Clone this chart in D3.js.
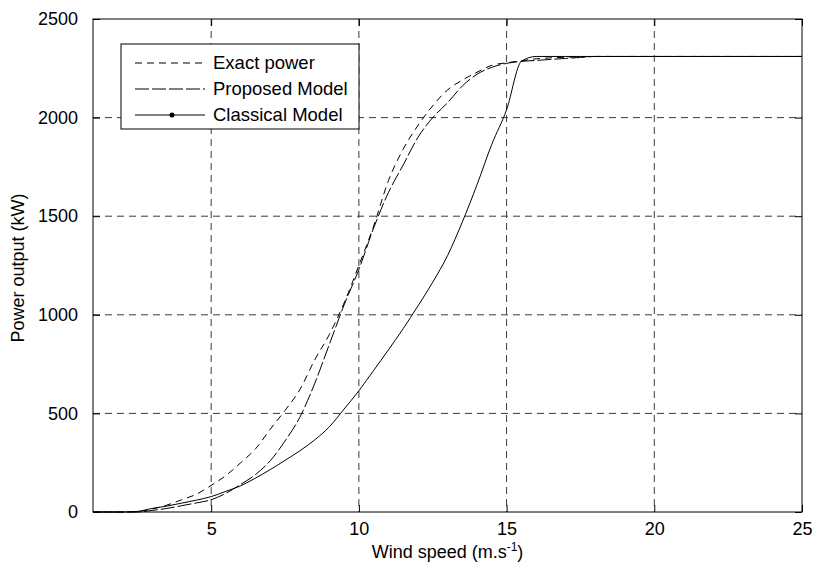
<!DOCTYPE html>
<html>
<head>
<meta charset="utf-8">
<script src="https://cdn.jsdelivr.net/npm/d3@7"></script>
<style>
  body { margin: 0; background: #fff; }
  text { font-family: "Liberation Sans", Arial, sans-serif; fill: #000; }
</style>
</head>
<body>
<svg id="chart"></svg>
<script>
// Data
const windSpeed = [1, 1.5, 2, 2.5, 3, 3.5, 4, 4.5, 5, 5.5, 6, 6.5, 7, 7.5, 8, 8.5, 9, 9.5, 10,
  10.5, 11, 11.5, 12, 12.5, 13, 13.5, 14, 14.5, 15, 15.5, 16, 16.5, 17, 17.5, 18, 20, 22, 25];

const exactPower = [0, 0, 0, 2, 15, 35, 62, 90, 135, 185, 250, 320, 420, 515, 620, 770, 900, 1060, 1250,
  1450, 1680, 1840, 1960, 2060, 2140, 2190, 2230, 2265, 2278, 2288, 2298, 2303, 2306, 2308, 2310, 2310, 2310, 2310];

const proposedModel = [0, 0, 0, 0, 8, 18, 32, 46, 62, 95, 140, 190, 260, 360, 480, 650, 850, 1050, 1230,
  1440, 1620, 1760, 1900, 2000, 2075, 2160, 2220, 2255, 2275, 2285, 2290, 2295, 2300, 2305, 2310, 2310, 2310, 2310];

const classicalModel = [0, 0, 0, 3, 18, 30, 45, 60, 78, 105, 133, 172, 215, 262, 310, 365, 432, 522, 615,
  718, 822, 930, 1045, 1165, 1300, 1470, 1660, 1865, 2040, 2285, 2310, 2310, 2310, 2310, 2310, 2310, 2310, 2310];

const xTicks = [5, 10, 15, 20, 25];
const yTicks = [0, 500, 1000, 1500, 2000, 2500];

const seriesNames = ["Exact power", "Proposed Model", "Classical Model"];
const seriesValues = [exactPower, proposedModel, classicalModel];
const seriesDash = ["7,5", "14,3", null];

// Layout
const svgWidth = 813;
const svgHeight = 562;
const margin = { top: 19, right: 11, bottom: 50, left: 93 };
const plotW = svgWidth - margin.left - margin.right;
const plotH = svgHeight - margin.top - margin.bottom;

const svg = d3.select('#chart')
  .attr('width', svgWidth)
  .attr('height', svgHeight);

const g = svg.append('g')
  .attr('transform', 'translate(' + margin.left + ',' + margin.top + ')');

const x = d3.scaleLinear().domain([1, 25]).range([0, plotW]);
const y = d3.scaleLinear().domain([0, 2500]).range([plotH, 0]);

//Grid lines
g.selectAll('.vgrid')
  .data(xTicks.filter(d => d < 25))
  .enter().append('line')
  .attr('class', 'vgrid')
  .attr('x1', d => x(d)).attr('x2', d => x(d))
  .attr('y1', 0).attr('y2', plotH)
  .style('stroke', '#3a3a3a')
  .style('stroke-dasharray', '7,5')
  .style('stroke-width', 1);

g.selectAll('.hgrid')
  .data(yTicks.filter(d => d > 0 && d < 2500))
  .enter().append('line')
  .attr('class', 'hgrid')
  .attr('x1', 0).attr('x2', plotW)
  .attr('y1', d => y(d)).attr('y2', d => y(d))
  .style('stroke', '#3a3a3a')
  .style('stroke-dasharray', '7,5')
  .style('stroke-width', 1);

//Curves
const line = d3.line()
  .x((d, i) => x(windSpeed[i]))
  .y(d => y(d))
  .curve(d3.curveMonotoneX);

seriesValues.forEach((vals, k) => {
  g.append('path')
    .datum(vals)
    .attr('d', line)
    .style('fill', 'none')
    .style('stroke', '#000')
    .style('stroke-width', 1)
    .style('stroke-dasharray', seriesDash[k]);
});

//Axes (ticks inside, on all four sides)
const xAxis = d3.axisBottom(x).tickValues(xTicks).tickFormat(d3.format('d'))
  .tickSizeInner(-7).tickSizeOuter(0).tickPadding(10);
const yAxis = d3.axisLeft(y).tickValues(yTicks).tickFormat(d3.format('d'))
  .tickSizeInner(-7).tickSizeOuter(0).tickPadding(15);

g.append('g').attr('transform', 'translate(0,' + plotH + ')').call(xAxis);
g.append('g').call(yAxis);

g.append('g').call(d3.axisTop(x).tickValues(xTicks).tickSizeInner(-7).tickSizeOuter(0).tickFormat(''));
g.append('g').attr('transform', 'translate(' + plotW + ',0)')
  .call(d3.axisRight(y).tickValues(yTicks).tickSizeInner(-7).tickSizeOuter(0).tickFormat(''));

g.selectAll('.domain').remove();
g.selectAll('.tick line').style('stroke', '#000');
g.selectAll('.tick text')
  .style('font-size', '18px')
  .style('font-family', '"Liberation Sans", Arial, sans-serif');

g.append('rect')
  .attr('width', plotW)
  .attr('height', plotH)
  .style('fill', 'none')
  .style('stroke', '#000')
  .style('stroke-width', 1);

//Axis titles
const xTitle = svg.append('text')
  .attr('x', margin.left + plotW / 2)
  .attr('y', 558)
  .attr('text-anchor', 'middle')
  .style('font-size', '18px');
xTitle.append('tspan').text('Wind speed (m.s');
xTitle.append('tspan').attr('dy', -7).style('font-size', '12px').text('-1');
xTitle.append('tspan').attr('dy', 7).text(')');

svg.append('text')
  .attr('transform', 'translate(24,' + 268 + ') rotate(-90)')
  .attr('text-anchor', 'middle')
  .style('font-size', '18px')
  .text('Power output (kW)');

//Legend
const legend = svg.append('g').attr('transform', 'translate(121,44)');
legend.append('rect')
  .attr('width', 238)
  .attr('height', 85)
  .style('fill', '#fff')
  .style('stroke', '#000')
  .style('stroke-width', 1);

const item = legend.selectAll('.item')
  .data(seriesNames)
  .enter().append('g')
  .attr('class', 'item')
  .attr('transform', (d, i) => 'translate(0,' + (19 + i * 26) + ')');

item.append('line')
  .attr('x1', 14).attr('x2', 84)
  .style('stroke', '#000')
  .style('stroke-width', 1)
  .style('stroke-dasharray', (d, i) => seriesDash[i]);

item.filter((d, i) => i === 2).append('circle')
  .attr('cx', 51).attr('r', 2.5)
  .style('fill', '#000');

item.append('text')
  .attr('x', 92)
  .attr('dy', '0.35em')
  .style('font-size', '18.5px')
  .text(d => d);
</script>
</body>
</html>
